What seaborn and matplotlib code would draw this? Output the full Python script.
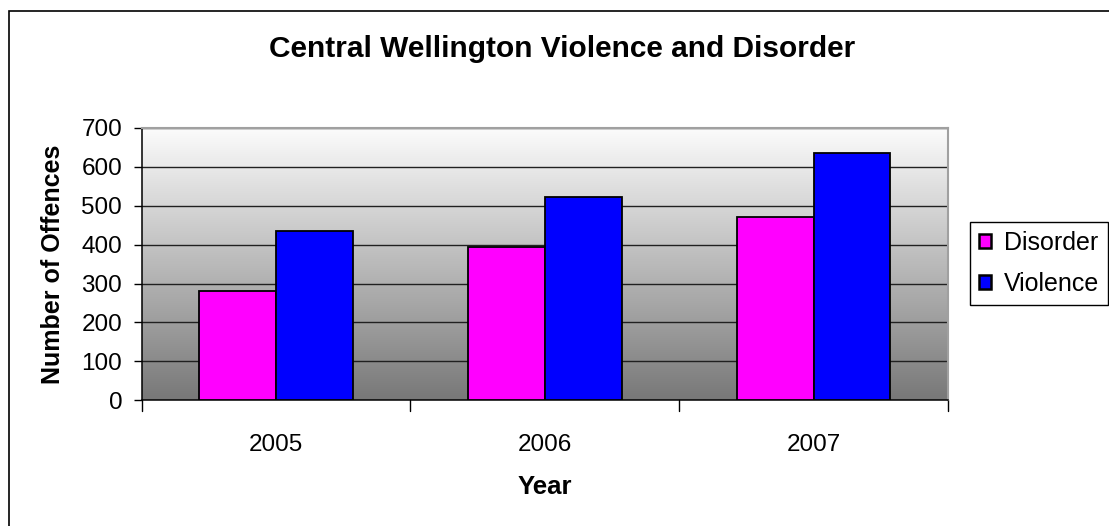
import matplotlib
matplotlib.use('Agg')
import matplotlib.pyplot as plt
from matplotlib.colors import LinearSegmentedColormap
from matplotlib.patches import Patch, Rectangle
import numpy as np
import pandas as pd
import seaborn as sns

# data
years = ['2005', '2006', '2007']
disorder = [281, 394, 471]
violence = [435, 522, 635]
series = ['Disorder', 'Violence']
colors = ['#FF00FF', '#0000FF']

df = pd.DataFrame({
    'Year': years * 2,
    'Offences': disorder + violence,
    'Series': [series[0]] * 3 + [series[1]] * 3,
})

sns.set_style('white')
plt.rcParams['font.family'] = ['Liberation Sans', 'DejaVu Sans']
plt.rcParams['text.color'] = 'black'
plt.rcParams['xtick.color'] = 'black'
plt.rcParams['ytick.color'] = 'black'
plt.rcParams['axes.labelcolor'] = 'black'

fig = plt.figure(figsize=(11.09, 5.26), dpi=100)
ax = fig.add_axes([0.1277, 0.239, 0.7271, 0.518])

# gradient background of the plot area
grad = LinearSegmentedColormap.from_list('g', ['#787878', '#fcfcfc'])
ax.imshow(np.linspace(0, 1, 256).reshape(-1, 1), cmap=grad, origin='lower',
          extent=[-0.5, 2.5, 0, 700], aspect='auto', zorder=0)

sns.barplot(data=df, x='Year', y='Offences', hue='Series', palette=colors,
            width=0.571, edgecolor='black', linewidth=1.3, saturation=1,
            ax=ax, zorder=3, legend=False)

ax.set_xlim(-0.5, 2.5)
ax.set_ylim(0, 700)
ax.set_yticks(range(0, 701, 100))
for y in range(100, 701, 100):
    ax.axhline(y, color='#202020', lw=1.0, zorder=1)

ax.set_xticks([0, 1, 2])
ax.set_xticklabels(years, fontsize=17.5)
ax.tick_params(axis='x', length=0, pad=24)
ax.tick_params(axis='y', labelsize=17.5, length=6, width=1,
               direction='out', left=True, pad=8)
# category separator ticks
for xb in [-0.5, 0.5, 1.5, 2.5]:
    ax.plot([xb, xb], [0, -0.04], transform=ax.get_xaxis_transform(),
            color='black', lw=1, clip_on=False)

for s in ['left', 'bottom']:
    ax.spines[s].set_color('black')
    ax.spines[s].set_linewidth(1.1)
for s in ['top', 'right']:
    ax.spines[s].set_color('#a0a0a0')
    ax.spines[s].set_linewidth(1.5)

ax.set_xlabel('Year', fontsize=18.5, fontweight='bold', labelpad=14)
ax.set_ylabel('Number of Offences', fontsize=18, fontweight='bold', labelpad=12)

fig.text(0.507, 0.907, 'Central Wellington Violence and Disorder',
         ha='center', va='center', fontsize=21.5, fontweight='bold')

handles = [Patch(facecolor=c, edgecolor='black', lw=1.8) for c in colors]
fig.legend(handles, series, loc='upper left',
           bbox_to_anchor=(970 / 1109, 1 - 222 / 526), fontsize=18,
           frameon=True, fancybox=False, edgecolor='black', framealpha=1,
           handlelength=0.5, handleheight=0.5, handletextpad=0.5,
           labelspacing=0.7, borderpad=0.35, borderaxespad=0)

# chart area border
fig.patches.append(Rectangle((8.5 / 1109, -0.1), 1.2, 1.1 - 10.5 / 526,
                             transform=fig.transFigure, fill=False,
                             edgecolor='black', lw=1.2))

fig.savefig('out.png', dpi=100)
